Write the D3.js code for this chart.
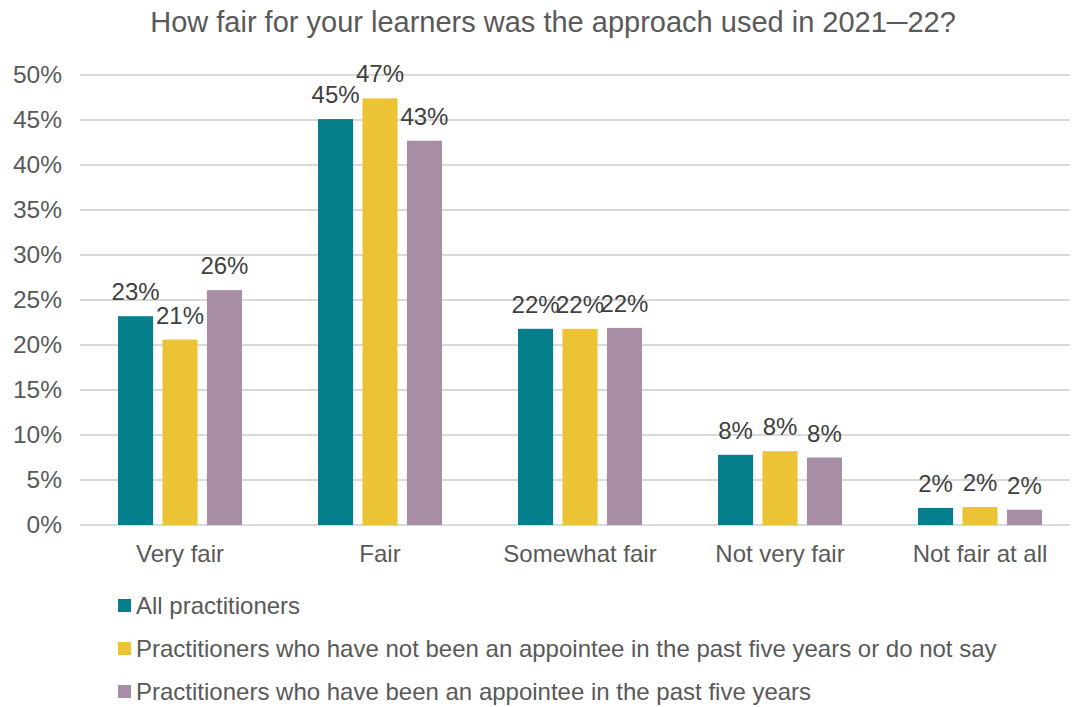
<!DOCTYPE html>
<html><head><meta charset="utf-8">
<script src="https://cdn.jsdelivr.net/npm/d3@7"></script>
<style>
html,body{margin:0;padding:0;background:#fff;}
svg{display:block;font-family:"Liberation Sans",Arial,sans-serif;}
</style></head>
<body>
<svg id="chart" width="1072" height="707"></svg>
<script>
const title = "How fair for your learners was the approach used in 2021\u250022?";
const categories = ["Very fair", "Fair", "Somewhat fair", "Not very fair", "Not fair at all"];
const seriesNames = [
  "All practitioners",
  "Practitioners who have not been an appointee in the past five years or do not say",
  "Practitioners who have been an appointee in the past five years"
];
const allPractitioners = [23.2, 45.1, 21.8, 7.8, 1.9];
const notAppointee = [20.6, 47.4, 21.8, 8.2, 2.0];
const appointee = [26.1, 42.7, 21.9, 7.5, 1.7];
const seriesColors = ["#057f8c", "#ebc334", "#a78ea5"];
const yTicks = [0, 5, 10, 15, 20, 25, 30, 35, 40, 45, 50];

const series = [allPractitioners, notAppointee, appointee];
const svg = d3.select("#chart");
const plotLeft = 80, plotRight = 1080, plotTop = 75, plotBottom = 525;
const FF = "'Liberation Sans', Arial, sans-serif";

const x0 = d3.scaleBand().domain(categories).range([plotLeft, plotRight]).paddingInner(0).paddingOuter(0);
const x1 = d3.scaleBand().domain([0, 1, 2]).range([38, 162]).paddingInner(0.21).paddingOuter(0);
const y = d3.scaleLinear().domain([0, 50]).range([plotBottom, plotTop]);

// title
svg.append("text").attr("x", 553).attr("y", 32).attr("text-anchor", "middle")
  .attr("font-size", 29).attr("fill", "#595959").text(title);

// gridlines
svg.append("g").selectAll("line").data(yTicks).join("line")
  .attr("x1", plotLeft).attr("x2", 1070)
  .attr("y1", d => y(d)).attr("y2", d => y(d))
  .attr("stroke", "#d9d9d9").attr("stroke-width", 2);

// y axis labels
const yAxis = d3.axisLeft(y).tickValues(yTicks).tickFormat(d => d + "%").tickSize(0).tickPadding(0);
const gy = svg.append("g").attr("transform", `translate(62,0)`).call(yAxis);
gy.select(".domain").remove();
gy.selectAll("text").attr("font-size", 24.5).attr("fill", "#595959").attr("font-family", FF);

// bars
const groups = svg.append("g").selectAll("g").data(categories).join("g")
  .attr("transform", c => `translate(${x0(c)},0)`);
groups.selectAll("rect").data((c, i) => series.map((s, j) => ({j, v: s[i]}))).join("rect")
  .attr("x", d => x1(d.j)).attr("width", x1.bandwidth())
  .attr("y", d => y(d.v)).attr("height", d => y(0) - y(d.v))
  .attr("fill", d => seriesColors[d.j]);
groups.selectAll("text").data((c, i) => series.map((s, j) => ({j, v: s[i]}))).join("text")
  .attr("x", d => x1(d.j) + x1.bandwidth() / 2).attr("y", d => y(d.v) - 16)
  .attr("text-anchor", "middle").attr("font-size", 24).attr("fill", "#404040")
  .text(d => Math.round(d.v) + "%");

// x axis labels
const xAxis = d3.axisBottom(x0).tickSize(0).tickPadding(0);
const gx = svg.append("g").attr("transform", `translate(0,${plotBottom + 37})`).call(xAxis);
gx.select(".domain").remove();
gx.selectAll("text").attr("font-size", 24).attr("fill", "#595959").attr("dy", 0)
  .attr("font-family", FF);

// legend
const lg = svg.append("g").selectAll("g").data(seriesNames).join("g")
  .attr("transform", (d, i) => `translate(118,${605 + i * 43})`);
lg.append("rect").attr("x", 0).attr("y", -6).attr("width", 13).attr("height", 13)
  .attr("fill", (d, i) => seriesColors[i]);
lg.append("text").attr("x", 18).attr("y", 9).attr("font-size", 24).attr("fill", "#595959").text(d => d);
</script>
</body></html>
